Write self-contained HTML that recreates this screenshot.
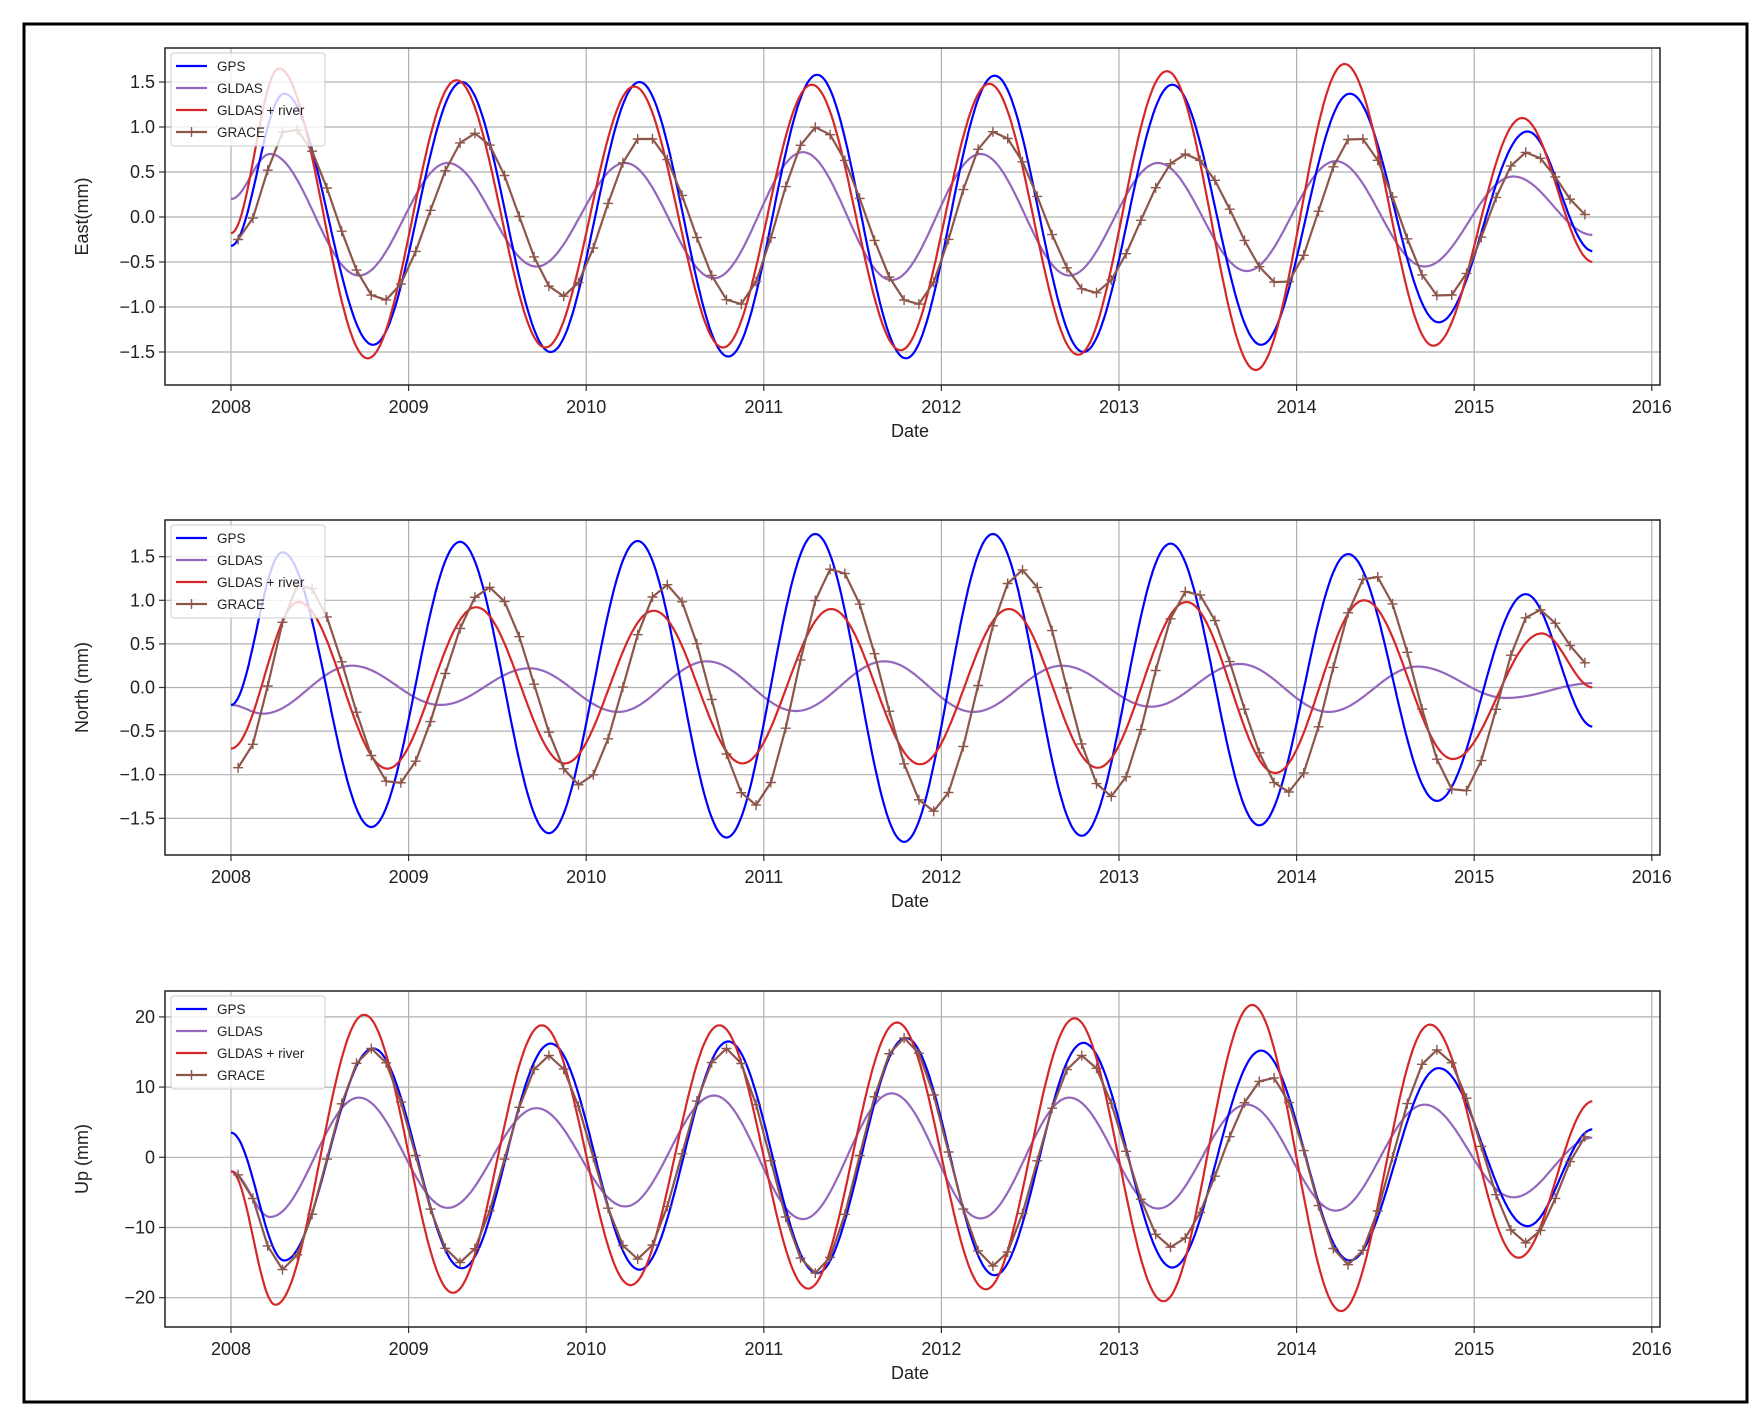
<!DOCTYPE html>
<html><head><meta charset="utf-8">
<style>
html,body{margin:0;padding:0;background:#fff;}
svg{display:block;}
text{font-family:"Liberation Sans","DejaVu Sans",sans-serif;fill:#222;}
</style></head>
<body>
<svg id="s" width="1762" height="1417" xmlns="http://www.w3.org/2000/svg">
<rect x="0" y="0" width="1762" height="1417" fill="#fff"/>
<rect x="24" y="24" width="1723" height="1378" fill="none" stroke="#000" stroke-width="3"/>
</svg>
<script>
const S=document.getElementById('s');
const NS='http://www.w3.org/2000/svg';
function el(t,a,txt){const e=document.createElementNS(NS,t);for(const k in a)e.setAttribute(k,a[k]);if(txt!==undefined)e.textContent=txt;S.appendChild(e);return e;}
const L=165,R=1660,X0=231,PY=177.6;
const xp=t=>X0+(t-2008)*PY;
function interp(ext,t){
 if(t<=ext[0][0])return ext[0][1];
 for(let i=0;i<ext.length-1;i++){const a=ext[i],b=ext[i+1];
  if(t>=a[0]&&t<=b[0]){const u=(t-a[0])/(b[0]-a[0]);
   return a[1]+(b[1]-a[1])*(1-Math.cos(Math.PI*u))/2;}}
 return ext[ext.length-1][1];}
function mk(start,end,vals,t0,dt){
 const e=[[2008,start]];vals.forEach((v,i)=>e.push([t0+i*0.5+(dt?dt[i]||0:0),v]));e.push([2015.67,end]);return e;}
const C={gps:'#0000ff',gl:'#9467bd',rv:'#d62728',gr:'#8c564b'};
function panel(top,bot,y0,ppu,ticks,fmt,ylabel,series){
 const yp=v=>y0-v*ppu;
 for(let yr=2008;yr<=2016;yr++){const x=xp(yr);el('line',{x1:x,y1:top,x2:x,y2:bot,stroke:'#b0b0b0','stroke-width':1.2});
  el('line',{x1:x,y1:bot,x2:x,y2:bot+6,stroke:'#333','stroke-width':1.2});
  el('text',{x:x,y:bot+28,'font-size':18,'text-anchor':'middle'},String(yr));}
 ticks.forEach(v=>{const y=yp(v);el('line',{x1:L,y1:y,x2:R,y2:y,stroke:'#b0b0b0','stroke-width':1.2});
  el('line',{x1:L-6,y1:y,x2:L,y2:y,stroke:'#333','stroke-width':1.2});
  el('text',{x:L-10,y:y+6,'font-size':18,'text-anchor':'end'},fmt(v).replace('-','\u2212'));});
 el('text',{x:910,y:bot+52,'font-size':18,'text-anchor':'middle'},'Date');
 const yc=(top+bot)/2;el('text',{x:88,y:yc,'font-size':18,'text-anchor':'middle',transform:`rotate(-90 88 ${yc})`},ylabel);
 const id='c'+top;const cp=el('clipPath',{id:id});const r=document.createElementNS(NS,'rect');
 r.setAttribute('x',L);r.setAttribute('y',top);r.setAttribute('width',R-L);r.setAttribute('height',bot-top);cp.appendChild(r);
 series.forEach(s=>{let d='';
  if(s.m){const pts=[];for(let t=2008.04;t<=2015.68;t+=1/12){pts.push([xp(t),yp(interp(s.e,t))]);}
   d=pts.map((p,i)=>(i?'L':'M')+p[0].toFixed(1)+' '+p[1].toFixed(1)).join('');
   el('path',{d:d,fill:'none',stroke:s.c,'stroke-width':2.2,'clip-path':`url(#${id})`});
   let md='';pts.forEach(p=>{md+=`M${(p[0]-5).toFixed(1)} ${p[1].toFixed(1)}h10M${p[0].toFixed(1)} ${(p[1]-5).toFixed(1)}v10`;});
   el('path',{d:md,stroke:s.c,'stroke-width':1.4,fill:'none','clip-path':`url(#${id})`});
  }else{for(let t=2008;t<=2015.67;t+=0.005){d+=(d?'L':'M')+xp(t).toFixed(1)+' '+yp(interp(s.e,t)).toFixed(1);}
   el('path',{d:d,fill:'none',stroke:s.c,'stroke-width':2.2,'clip-path':`url(#${id})`});}
 });
 el('rect',{x:L,y:top,width:R-L,height:bot-top,fill:'none',stroke:'#222','stroke-width':1.5});
 const lt=top+5;
 el('rect',{x:171,y:lt,width:154,height:93,fill:'#fff','fill-opacity':0.8,stroke:'#ccc','stroke-width':1,rx:3});
 [['GPS',C.gps],['GLDAS',C.gl],['GLDAS + river',C.rv],['GRACE',C.gr]].forEach((a,i)=>{const y=lt+13+i*22;
  el('line',{x1:176,y1:y,x2:207,y2:y,stroke:a[1],'stroke-width':2.2});
  if(i==3)el('path',{d:`M${191.5-5} ${y}h10M191.5 ${y-5}v10`,stroke:a[1],'stroke-width':1.4});
  el('text',{x:217,y:y+5,'font-size':13.5},a[0]);});
}
const f1=v=>v.toFixed(1), f0=v=>String(v);
panel(48,385,217,90,[-1.5,-1,-0.5,0,0.5,1,1.5],f1,'East(mm)',[
 {c:C.gl,e:mk(0.2,-0.2,[0.7,-0.65,0.6,-0.55,0.6,-0.68,0.72,-0.7,0.7,-0.65,0.6,-0.6,0.62,-0.55,0.45],2008.22)},
 {c:C.gps,e:mk(-0.32,-0.38,[1.37,-1.42,1.5,-1.5,1.5,-1.55,1.58,-1.57,1.57,-1.5,1.47,-1.42,1.37,-1.17,0.95],2008.3)},
 {c:C.rv,e:mk(-0.18,-0.5,[1.65,-1.57,1.52,-1.45,1.45,-1.45,1.47,-1.48,1.48,-1.53,1.62,-1.7,1.7,-1.43,1.1],2008.27)},
 {c:C.gr,m:1,e:[[2008.04,-0.25]].concat(mk(0,0,[1.0,-0.93,0.93,-0.88,0.9,-0.98,1.0,-0.98,0.95,-0.85,0.7,-0.75,0.9,-0.9,0.72],2008.33,[0,0.02,0.04,0.04,0,0.02,-0.03,0.02,-0.03,0.02,0.05,0.09,0,0,-0.03]).slice(1,-1),[[2015.67,0]])}
]);
panel(520,855,687.5,87.2,[-1.5,-1,-0.5,0,0.5,1,1.5],f1,'North (mm)',[
 {c:C.gl,e:[[2008,-0.2]].concat(mk(0,0,[-0.3,0.25,-0.2,0.22,-0.28,0.3,-0.27,0.3,-0.28,0.25,-0.22,0.27,-0.28,0.24,-0.12],2008.18).slice(1,-1),[[2015.67,0.05]])},
 {c:C.gps,e:mk(-0.2,-0.45,[1.55,-1.6,1.67,-1.67,1.68,-1.72,1.76,-1.77,1.76,-1.7,1.65,-1.58,1.53,-1.3,1.07],2008.29)},
 {c:C.rv,e:mk(-0.7,0,[0.98,-0.93,0.92,-0.87,0.88,-0.87,0.9,-0.88,0.9,-0.92,0.98,-0.98,1.0,-0.82,0.62],2008.38)},
 {c:C.gr,m:1,e:[[2008.04,-0.92]].concat(mk(0,0,[1.2,-1.12,1.15,-1.12,1.18,-1.35,1.38,-1.42,1.35,-1.25,1.12,-1.2,1.3,-1.22,0.9],2008.4,[0,0.02,0.05,0.07,0.05,0.05,0,0.05,0.05,0.05,0,0.05,0.02,0.02,-0.05]).slice(1,-1),[[2015.67,0.25]])}
]);
panel(991,1327,1157.3,7.02,[-20,-10,0,10,20],f0,'Up (mm)',[
 {c:C.gl,e:mk(-2,2.8,[-8.5,8.5,-7.2,7,-7,8.8,-8.8,9.1,-8.7,8.5,-7.3,7.5,-7.6,7.5,-5.7],2008.22)},
 {c:C.gps,e:mk(3.5,4.0,[-14.7,15.5,-15.8,16.2,-16,16.5,-16.5,17,-16.8,16.3,-15.7,15.2,-14.7,12.7,-9.8],2008.3)},
 {c:C.rv,e:mk(-2,8,[-21,20.3,-19.3,18.8,-18.2,18.8,-18.7,19.2,-18.8,19.8,-20.5,21.7,-21.9,18.9,-14.3],2008.25)},
 {c:C.gr,m:1,e:[[2008.04,-2.5]].concat(mk(0,0,[-16,15.5,-15,14.5,-14.5,15.5,-16.5,17,-15.5,14.5,-12.8,11.5,-15.3,15.3,-12.2],2008.29,[0,0,0,0,0,0,0,0,0,0,0,0.06,0,0,0]).slice(1,-1),[[2015.67,3.5]])}
]);
</script>
</body></html>
